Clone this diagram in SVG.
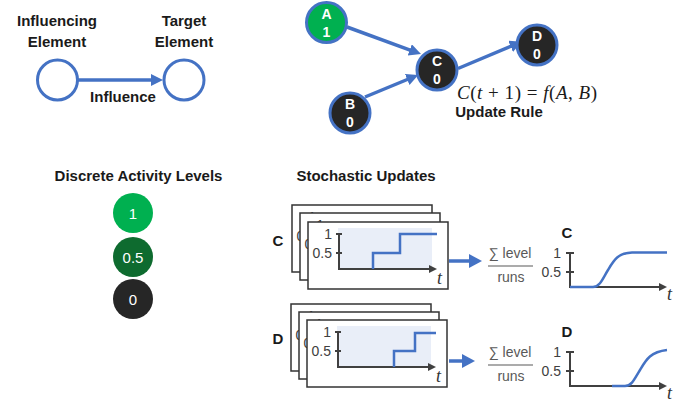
<svg xmlns="http://www.w3.org/2000/svg" xmlns:xlink="http://www.w3.org/1999/xlink" width="693" height="403" viewBox="0 0 693 403">
<style>
.b{font-family:"Liberation Sans",Arial,sans-serif;font-weight:bold;font-size:15px;fill:#1a1a1a;text-anchor:middle}
.nt{font-family:"Liberation Sans",Arial,sans-serif;font-weight:bold;font-size:14px;fill:#fff;text-anchor:middle}
.lv{font-family:"Liberation Sans",Arial,sans-serif;font-size:15px;fill:#fff;text-anchor:middle}
.tk{font-family:"Liberation Sans",Arial,sans-serif;font-size:14px;fill:#404040;text-anchor:end}
.fr{font-family:"Liberation Sans",Arial,sans-serif;font-size:14px;fill:#595959;text-anchor:middle}
.ti{font-family:"Liberation Serif","Times New Roman",serif;font-style:italic;font-size:18px;fill:#333}
.conn{stroke:#4472C4;stroke-width:3.5;fill:none}
.ring{stroke:#4472C4;stroke-width:3}
.ax{stroke:#404040;stroke-width:2;fill:none}
.step{stroke:#4472C4;stroke-width:2.5;fill:none}
</style>
<defs>
<marker id="ah" markerUnits="userSpaceOnUse" markerWidth="14" markerHeight="14" refX="4" refY="6" orient="auto">
<path d="M0,0 L12,6 L0,12 z" fill="#4472C4"/>
</marker>
<marker id="ahb" markerUnits="userSpaceOnUse" markerWidth="16" markerHeight="16" refX="4" refY="7" orient="auto">
<path d="M0,0 L13,7 L0,14 z" fill="#4472C4"/>
</marker>
<marker id="axh" markerUnits="userSpaceOnUse" markerWidth="10" markerHeight="10" refX="2" refY="4" orient="auto">
<path d="M0,0 L8,4 L0,8 z" fill="#404040"/>
</marker>
<g id="frame">
<rect x="0" y="0" width="140" height="67" fill="#fff" stroke="#333" stroke-width="1.5"/>
<text class="tk" x="24" y="17">1</text>
<text class="tk" x="24" y="36">0.5</text>
</g>
<g id="plot">
<rect x="30" y="6" width="94" height="41" fill="#E9EEF8"/>
<path class="ax" d="M31,12 V47 H123" marker-end="url(#axh)"/>
<path class="ax" d="M28,12 H34 M28,31 H34"/>
<text class="ti" x="129" y="62">t</text>
</g>
<g id="mini">
<path class="ax" d="M570,253 V287 H661" marker-end="url(#axh)"/>
<path class="ax" d="M566,253 H574 M566,272 H574"/>
<text class="tk" x="561" y="258">1</text>
<text class="tk" x="561" y="277">0.5</text>
<text class="ti" x="667" y="300">t</text>
<text class="fr" x="510" y="258">∑ level</text>
<line x1="488" y1="266" x2="533" y2="266" stroke="#595959" stroke-width="1.2"/>
<text class="fr" x="511" y="282">runs</text>
</g>
</defs>

<g id="connectors">
<line class="conn" x1="78" y1="80" x2="155" y2="80" marker-end="url(#ah)"/>
<line class="conn" x1="347" y1="27" x2="413.5" y2="51.3" marker-end="url(#ah)"/>
<line class="conn" x1="365" y1="97" x2="410.9" y2="78" marker-end="url(#ah)"/>
<line class="conn" x1="458" y1="68.5" x2="514.3" y2="44.8" marker-end="url(#ah)"/>
<line class="conn" x1="449" y1="261" x2="473" y2="261" stroke-width="4" marker-end="url(#ahb)"/>
<line class="conn" x1="449" y1="361" x2="466" y2="361" stroke-width="4" marker-end="url(#ahb)"/>
</g>

<g id="legend-influencing">
<text class="b" x="57" y="26">Influencing</text>
<text class="b" x="57" y="47">Element</text>
<circle class="ring" cx="57.5" cy="80" r="20" fill="#fff"/>
</g>
<g id="legend-target">
<text class="b" x="184" y="26">Target</text>
<text class="b" x="184" y="47">Element</text>
<circle class="ring" cx="184" cy="80" r="20" fill="#fff"/>
</g>
<text class="b" x="123" y="102">Influence</text>

<g id="node-A">
<circle class="ring" cx="326.5" cy="22.5" r="20" fill="#00B050"/>
<text class="nt" x="326.5" y="19">A</text>
<text class="nt" x="326.5" y="37">1</text>
</g>
<g id="node-B">
<circle class="ring" cx="350" cy="113" r="20" fill="#262626"/>
<text class="nt" x="350" y="109">B</text>
<text class="nt" x="350" y="127">0</text>
</g>
<g id="node-C">
<circle class="ring" cx="437" cy="70" r="20" fill="#262626"/>
<text class="nt" x="437" y="66">C</text>
<text class="nt" x="437" y="84">0</text>
</g>
<g id="node-D">
<circle class="ring" cx="537" cy="45" r="20" fill="#262626"/>
<text class="nt" x="537" y="41">D</text>
<text class="nt" x="537" y="59">0</text>
</g>
<text x="457" y="99" textLength="140" font-family="'Liberation Serif','Times New Roman',serif" font-size="19" fill="#1a1a1a"><tspan font-style="italic">C</tspan>(<tspan font-style="italic">t</tspan> + 1) = <tspan font-style="italic">f</tspan>(<tspan font-style="italic">A</tspan>, <tspan font-style="italic">B</tspan>)</text>
<text class="b" x="499" y="117">Update Rule</text>

<g id="levels">
<text class="b" x="138.5" y="181">Discrete Activity Levels</text>
<g id="level-1"><circle cx="133" cy="213" r="20" fill="#00B050"/><text class="lv" x="133" y="218.5">1</text></g>
<g id="level-05"><circle cx="133" cy="257" r="20" fill="#0E6B2F"/><text class="lv" x="133" y="262.5">0.5</text></g>
<g id="level-0"><circle cx="133" cy="299" r="20" fill="#262626"/><text class="lv" x="133" y="304.5">0</text></g>
</g>

<text class="b" x="366" y="181">Stochastic Updates</text>

<g id="runs-C">
<text class="b" x="278" y="246">C</text>
<use xlink:href="#frame" href="#frame" x="292" y="205"/>
<use xlink:href="#frame" href="#frame" x="300" y="213"/>
<use xlink:href="#frame" href="#frame" x="308" y="222"/>
<use xlink:href="#plot" href="#plot" x="308" y="222"/>
<path class="step" d="M373,269 V253 H400 V234 H437"/>
</g>
<g id="runs-D">
<text class="b" x="278" y="344">D</text>
<use xlink:href="#frame" href="#frame" x="291" y="304"/>
<use xlink:href="#frame" href="#frame" x="299" y="312"/>
<use xlink:href="#frame" href="#frame" x="307" y="320"/>
<use xlink:href="#plot" href="#plot" x="307" y="320"/>
<path class="step" d="M394,367 V351 H415 V333 H436"/>
</g>

<g id="avg-C">
<text class="b" x="567" y="238">C</text>
<use xlink:href="#mini" href="#mini"/>
<path class="step" d="M570,287 H593 C600,287 603,278 608,270 C614,260 618,253 632,252.5 H667"/>
</g>
<g id="avg-D">
<text class="b" x="567" y="337">D</text>
<use xlink:href="#mini" href="#mini" y="99"/>
<path class="step" d="M612,386 H625 C632,386 635,378 640,370 C646,360 650,352 667,350"/>
</g>
</svg>
